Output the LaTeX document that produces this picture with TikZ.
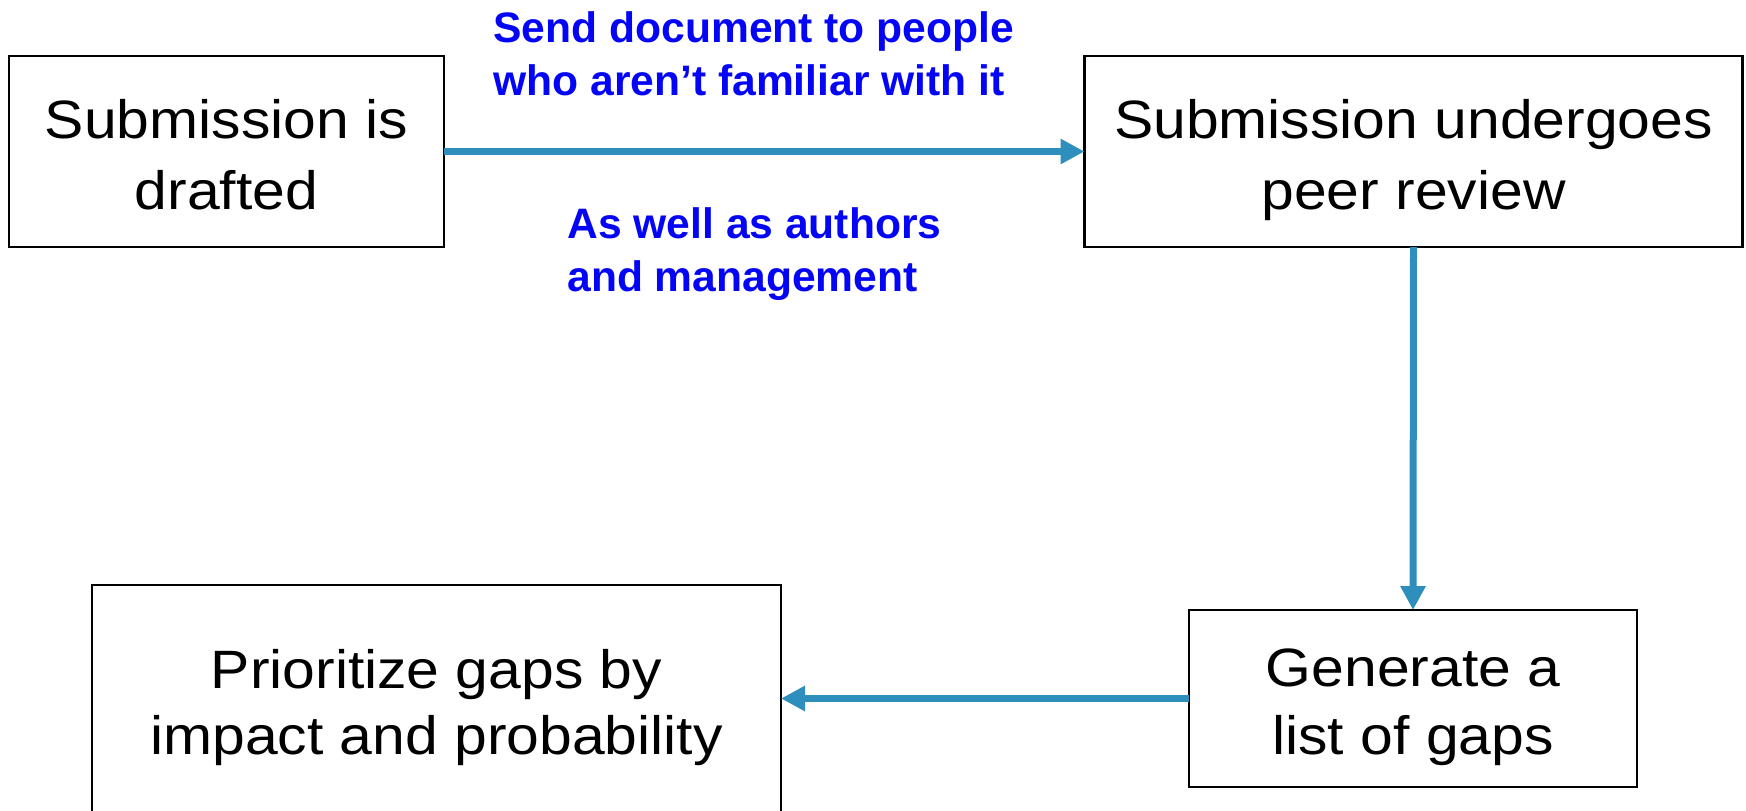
\documentclass[tikz,border=0pt]{standalone}
\usepackage{fontspec}
\setmainfont{Liberation Sans}
\newfontfamily\boxfont[FakeStretch=1.09]{Liberation Sans}
\newfontfamily\lblfont{Liberation Sans}
\usetikzlibrary{arrows.meta}
\definecolor{arrowblue}{RGB}{46,143,188}
\definecolor{lblblue}{RGB}{5,5,245}
\newcommand\topst{\rule{0pt}{30pt}}
\newcommand\botst{\rule[-7.6pt]{0pt}{7.6pt}}
\tikzset{
  box/.style={draw=black, line width=1.2pt, fill=white, inner sep=0pt, outer sep=0pt,
    align=center, font={\boxfont\fontsize{27pt}{35.5pt}\selectfont}},
  flow/.style={draw=arrowblue, line width=3.5pt, -{Triangle[length=12pt,width=12pt]}},
  lbl/.style={text=lblblue, align=left, inner sep=0pt, anchor=west,
    font={\lblfont\bfseries\fontsize{21.3pt}{26.5pt}\selectfont}}
}
\begin{document}
\begin{tikzpicture}[x=0.5pt,y=-0.5pt]
\useasboundingbox (0,0) rectangle (1746,810);
\clip (0,0) rectangle (1746,810);
\node[box, minimum width=217.5pt, minimum height=95.5pt] (b1) at (226.5,151.5) {\topst Submission is\\drafted\botst};
\node[box, minimum width=329pt, minimum height=95.5pt] (b2) at (1413.5,151.5) {\topst Submission undergoes\\peer review\botst};
\node[box, minimum width=224pt, minimum height=88.5pt, font={\boxfont\fontsize{27pt}{34pt}\selectfont}] (b3) at (1413,698.5) {\topst Generate a\\list of gaps\botst};
\node[box, minimum width=344.5pt, minimum height=114pt, font={\boxfont\fontsize{27pt}{33pt}\selectfont}] (b4) at (436.5,699) {\topst Prioritize gaps by\\impact and probability\botst};
\draw[flow] (b1.east) -- (b2.west);
\draw[flow] (b2.south) -- (b3.north);
\draw[flow] (b3.west) -- (b3.west -| b4.east);
\node[lbl] (l1) at (493,53.4) {Send document to people\\who aren’t familiar with it};
\node[lbl] (l2) at (567,254) {As well as authors\\and management};
\end{tikzpicture}
\end{document}
